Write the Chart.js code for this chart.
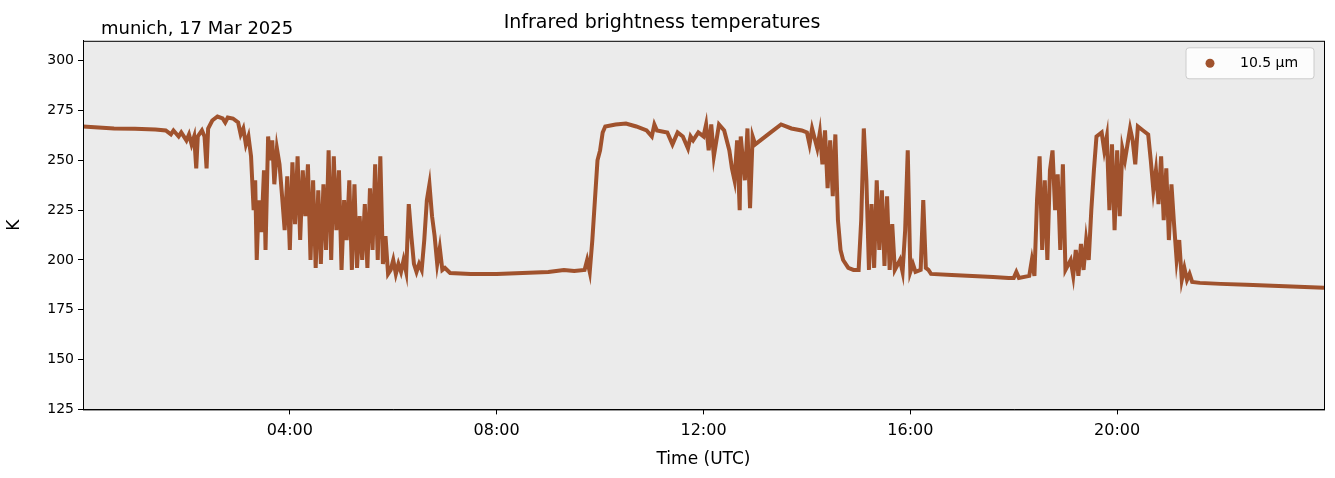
<!DOCTYPE html>
<html>
<head>
<meta charset="utf-8">
<script src="https://cdn.jsdelivr.net/npm/chart.js@4"></script>
<style>
  body { margin: 0; background: #fff; }
  #wrap { width: 1335px; height: 478px; }
</style>
</head>
<body>
<div id="wrap"><canvas id="irChart"></canvas></div>
<script>
// hours (UTC) and brightness temperature (K)
const hours = [0.0,0.3,0.6,1.0,1.4,1.6,1.7,1.75,1.85,1.9,2.0,2.05,2.1,2.15,2.19,2.22,2.3,2.35,2.39,2.42,2.5,2.6,2.7,2.75,2.8,2.9,3.0,3.05,3.1,3.15,3.2,3.25,3.3,3.33,3.36,3.4,3.45,3.5,3.53,3.58,3.62,3.66,3.7,3.75,3.8,3.85,3.9,3.95,4.0,4.05,4.1,4.15,4.2,4.25,4.3,4.35,4.4,4.45,4.5,4.55,4.6,4.65,4.7,4.75,4.8,4.85,4.9,4.95,5.0,5.05,5.1,5.15,5.2,5.25,5.3,5.35,5.4,5.45,5.5,5.55,5.6,5.65,5.7,5.75,5.8,5.85,5.9,5.95,6.0,6.05,6.1,6.15,6.2,6.25,6.3,6.35,6.4,6.45,6.5,6.55,6.6,6.65,6.7,6.75,6.8,6.85,6.9,6.95,7.0,7.1,7.5,8.0,8.5,9.0,9.3,9.5,9.7,9.75,9.8,9.85,9.9,9.95,10.0,10.05,10.1,10.3,10.5,10.7,10.9,11.0,11.05,11.1,11.3,11.4,11.5,11.6,11.7,11.75,11.8,11.9,12.0,12.05,12.1,12.15,12.2,12.3,12.4,12.5,12.55,12.6,12.65,12.7,12.72,12.8,12.85,12.9,12.95,13.0,13.1,13.3,13.5,13.7,13.9,14.0,14.05,14.1,14.2,14.25,14.3,14.35,14.4,14.45,14.5,14.55,14.6,14.65,14.7,14.8,14.9,15.0,15.05,15.1,15.15,15.2,15.25,15.3,15.35,15.4,15.45,15.5,15.55,15.6,15.65,15.7,15.8,15.85,15.9,15.95,16.0,16.05,16.1,16.2,16.25,16.3,16.35,16.4,16.8,17.2,17.6,17.9,18.0,18.05,18.1,18.3,18.35,18.4,18.45,18.5,18.55,18.6,18.65,18.7,18.75,18.8,18.85,18.9,18.95,19.0,19.1,19.15,19.2,19.25,19.3,19.35,19.4,19.45,19.5,19.55,19.6,19.7,19.75,19.8,19.85,19.9,19.95,20.0,20.05,20.1,20.15,20.2,20.25,20.3,20.35,20.4,20.5,20.6,20.65,20.7,20.75,20.8,20.85,20.9,20.95,21.0,21.05,21.1,21.15,21.2,21.25,21.3,21.35,21.4,21.45,21.6,22.0,22.5,23.0,23.5,24.0];
const tb105 = [267,266.5,266,265.8,265.5,265,263,265,262,264,260,263,258,262,246,262,265,262,246,266,270,272,271,269,271.5,271,269,263,266,258,262,252,225,240,200,230,214,245,205,262,250,260,238,256,248,232,215,242,205,249,218,252,210,245,222,248,200,240,196,235,198,238,205,255,200,252,215,245,195,230,210,240,195,238,196,222,200,228,196,236,205,248,200,252,198,212,193,195,200,193,198,194,200,194,228,212,198,194,198,195,210,230,238,222,212,198,206,195,196,193.5,193,193,193.5,194,195,194.5,195,200,194,210,230,250,255,264,267,268,268.5,267,265,262,268,265,264,258,264,262,256,262,260,264,262,268,255,268,252,268,265,255,246,240,260,225,262,240,266,226,262,258,260,264,268,266,265,264,258,266,256,264,248,265,236,260,232,263,220,205,200,196,195,195,220,266,240,195,228,196,240,205,235,197,232,195,218,195,200,194,215,255,194,198,194,195,230,196,195,193,192.5,192,191.5,191,191,194,191,192,200,192,230,252,205,240,200,245,255,225,243,205,248,195,200,192,205,192,208,195,210,200,225,245,262,264,255,262,225,258,215,255,222,256,250,258,266,260,248,267,265,263,250,235,245,228,252,220,246,210,238,218,200,210,190,196,190,193,189,188.5,188,187.5,187,186.5,186];
const yTicks = [125,150,175,200,225,250,275,300];
const xTicks = [4,8,12,16,20];
const seriesLabel = "10.5 µm";
const seriesColor = "#a0522d";

const points = hours.map((h, i) => ({ x: h, y: tb105[i] }));

const extras = {
    id: "extras",
    beforeDraw(chart) {
        const { ctx, chartArea: a } = chart;
        ctx.save();
        ctx.fillStyle = "#ebebeb";
        ctx.fillRect(a.left, a.top, a.right - a.left, a.bottom - a.top);
        ctx.restore();
    },
    afterDraw(chart) {
        const { ctx, chartArea: a } = chart;
        ctx.save();
        ctx.strokeStyle = "#000";
        ctx.lineWidth = 1;
        ctx.strokeRect(a.left + 0.5, a.top + 0.5, a.right - a.left, a.bottom - a.top);

        ctx.fillStyle = "#000";
        ctx.font = "18px 'DejaVu Sans'";
        ctx.textBaseline = "alphabetic";
        ctx.fillText("munich, 17 Mar 2025", 101, 34);

        // legend box, top right
        const bx = a.right - 138, by = a.top + 7;
        ctx.fillStyle = "rgba(255,255,255,0.85)";
        ctx.strokeStyle = "#cccccc";
        ctx.beginPath();
        ctx.roundRect(bx, by, 128, 31, 3);
        ctx.fill();
        ctx.stroke();
        ctx.fillStyle = seriesColor;
        ctx.beginPath();
        ctx.arc(bx + 24, by + 15.5, 4.5, 0, Math.PI * 2);
        ctx.fill();
        ctx.fillStyle = "#000";
        ctx.font = "14px 'DejaVu Sans'";
        ctx.textBaseline = "middle";
        ctx.fillText(seriesLabel, bx + 54, by + 16);
        ctx.restore();
    }
};

new Chart(document.getElementById("irChart"), {
    type: "line",
    data: {
        datasets: [{
            label: seriesLabel,
            data: points,
            borderColor: seriesColor,
            backgroundColor: seriesColor,
            borderWidth: 4,
            pointRadius: 0,
            tension: 0
        }]
    },
    options: {
        responsive: true,
        maintainAspectRatio: false,
        animation: false,
        layout: { padding: { left: 0, right: 11, top: 0, bottom: 8 } },
        plugins: {
            title: {
                display: true,
                text: "Infrared brightness temperatures",
                color: "#000",
                font: { family: "DejaVu Sans", size: 19, weight: "normal" },
                padding: { top: 12, bottom: 6 }
            },
            legend: { display: false },
            tooltip: { enabled: false }
        },
        scales: {
            x: {
                type: "linear",
                min: 0,
                max: 24,
                grid: { display: true, drawOnChartArea: false, drawTicks: true, tickLength: 5, color: "#000" },
                border: { color: "#000" },
                afterBuildTicks(scale) {
                    scale.ticks = xTicks.map(v => ({ value: v }));
                },
                ticks: {
                    color: "#000",
                    font: { family: "DejaVu Sans", size: 16 },
                    maxRotation: 0,
                    padding: 7,
                    callback: v => String(v).padStart(2, "0") + ":00"
                },
                title: {
                    display: true,
                    text: "Time (UTC)",
                    color: "#000",
                    font: { family: "DejaVu Sans", size: 17 },
                    padding: { top: 2, bottom: 0 }
                }
            },
            y: {
                min: 125,
                max: 310,
                grid: { display: true, drawOnChartArea: false, drawTicks: true, tickLength: 5, color: "#000" },
                border: { color: "#000" },
                afterBuildTicks(scale) {
                    scale.ticks = yTicks.map(v => ({ value: v }));
                },
                afterFit(scale) { scale.width = 83; },
                ticks: {
                    color: "#000",
                    font: { family: "DejaVu Sans", size: 14 },
                    padding: 4
                },
                title: {
                    display: true,
                    text: "K",
                    color: "#000",
                    font: { family: "DejaVu Sans", size: 17 }
                }
            }
        }
    },
    plugins: [extras]
});
</script>
</body>
</html>
